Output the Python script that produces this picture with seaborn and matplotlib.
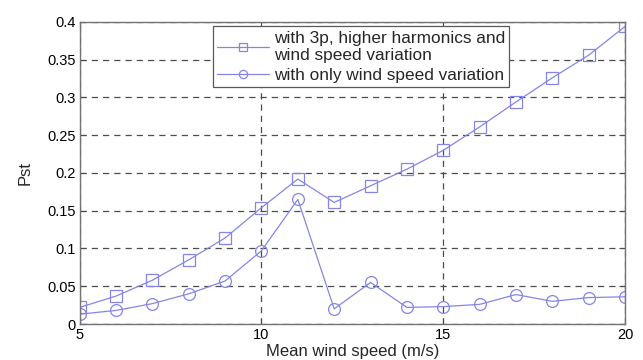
import matplotlib
matplotlib.use("Agg")
import matplotlib.pyplot as plt
import seaborn as sns
import pandas as pd
from matplotlib.ticker import FuncFormatter

# data
wind_speed = [5, 6, 7, 8, 9, 10, 11, 12, 13, 14, 15, 16, 17, 18, 19, 20]
pst_full = [0.022, 0.037, 0.058, 0.085, 0.114, 0.154, 0.192, 0.161, 0.183, 0.205,
            0.230, 0.261, 0.294, 0.326, 0.356, 0.394]
pst_wind = [0.013, 0.018, 0.027, 0.040, 0.057, 0.097, 0.165, 0.020, 0.055, 0.022,
            0.023, 0.026, 0.039, 0.030, 0.035, 0.036]
label_full = "with 3p, higher harmonics and\nwind speed variation"
label_wind = "with only wind speed variation"

sns.set_theme(style="white")
plt.rcParams['font.family'] = ['Liberation Sans', 'DejaVu Sans']

df = pd.DataFrame({"v": wind_speed, "full": pst_full, "wind": pst_wind})
line_col = "#8585e8"

fig = plt.figure(figsize=(6.43, 3.6), dpi=100)
ax = fig.add_axes([0.124, 0.1, 0.848, 0.839])

sns.lineplot(data=df, x="v", y="full", ax=ax, color=line_col, lw=0.9,
             marker="s", markersize=8.5, markerfacecolor="none",
             markeredgecolor=line_col, markeredgewidth=0.9, label=label_full)
sns.lineplot(data=df, x="v", y="wind", ax=ax, color=line_col, lw=0.9,
             marker="o", markersize=8.5, markerfacecolor="none",
             markeredgecolor=line_col, markeredgewidth=0.9, label=label_wind)

ax.set_xlim(5, 20)
ax.set_ylim(0, 0.4)
ax.set_xticks([5, 10, 15, 20])
ax.set_yticks([0, 0.05, 0.1, 0.15, 0.2, 0.25, 0.3, 0.35, 0.4])
ax.yaxis.set_major_formatter(FuncFormatter(lambda v, p: f"{v:.2f}".rstrip("0").rstrip(".")))
ax.grid(True, linestyle=(0, (5, 4)), color="0.3", lw=0.9)
ax.tick_params(direction="in", length=4, width=0.8, colors="0.3",
               labelcolor="black", labelsize=10.5, top=True, right=True,
               bottom=True, left=True, pad=3)
for s in ax.spines.values():
    s.set_color("0.45")
    s.set_linewidth(1.0)

ax.set_xlabel("Mean wind speed (m/s)", fontsize=12, labelpad=1)
ax.set_ylabel("Pst", fontsize=12, labelpad=10)

leg = ax.legend(loc="upper left", bbox_to_anchor=(0.244, 0.985), fontsize=12.4,
                frameon=True, fancybox=False, edgecolor="0.35", framealpha=1,
                borderpad=0.25, handlelength=3.0, labelspacing=0.3,
                handletextpad=0.3, borderaxespad=0, markerscale=0.7)
leg.get_frame().set_linewidth(0.9)
for t in leg.get_texts():
    t.set_linespacing(1.15)

fig.savefig("out.png", dpi=100)
